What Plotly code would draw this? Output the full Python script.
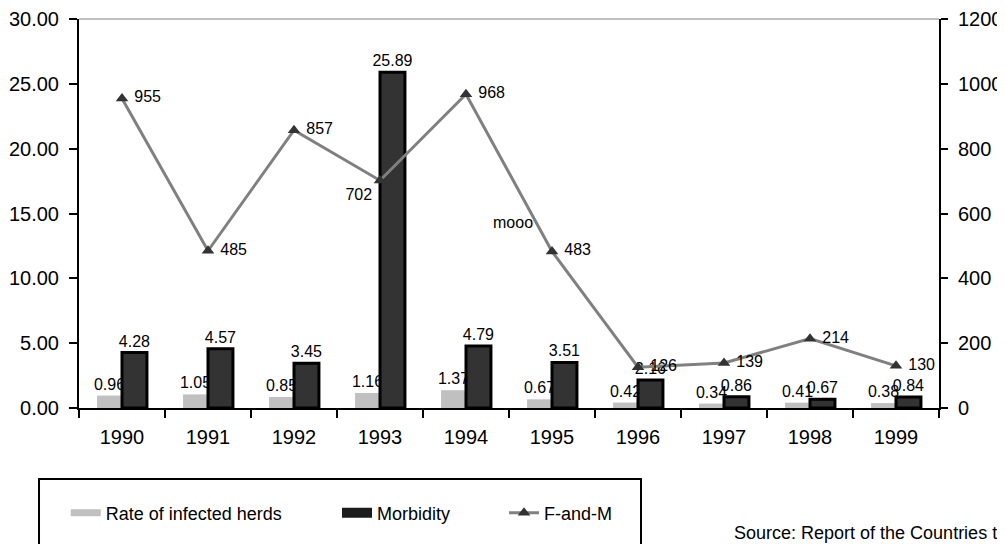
import plotly.graph_objects as go

years = ["1990", "1991", "1992", "1993", "1994", "1995", "1996", "1997", "1998", "1999"]
rate_infected = [0.96, 1.05, 0.85, 1.16, 1.37, 0.67, 0.42, 0.34, 0.41, 0.38]
morbidity = [4.28, 4.57, 3.45, 25.89, 4.79, 3.51, 2.16, 0.86, 0.67, 0.84]
f_and_m = [955, 485, 857, 702, 968, 483, 126, 139, 214, 130]

FONT = "Liberation Sans, Arial, sans-serif"
line_text_pos = ["middle right"] * len(years)
line_text_pos[3] = "bottom left"

fig = go.Figure()

fig.add_trace(go.Bar(
    x=years, y=rate_infected, name="Rate of infected herds",
    marker=dict(color="#c0c0c0", line=dict(width=0)),
    text=[f"{v:.2f}" for v in rate_infected], textposition="outside",
    constraintext="none", cliponaxis=False,
    textfont=dict(size=16, color="black", family=FONT),
    showlegend=False, legendgroup="rate",
))
fig.add_trace(go.Bar(
    x=years, y=morbidity, name="Morbidity",
    marker=dict(color="#333333", line=dict(color="black", width=3)),
    text=[f"{v:.2f}" for v in morbidity], textposition="outside",
    constraintext="none", cliponaxis=False,
    textfont=dict(size=16, color="black", family=FONT),
    showlegend=False, legendgroup="morb",
))
fig.add_trace(go.Scatter(
    x=years, y=f_and_m, name="F-and-M", yaxis="y2",
    mode="lines+markers+text",
    line=dict(color="#808080", width=3),
    marker=dict(symbol="triangle-up", size=11, color="#333333"),
    text=[f" {v}" if p == "middle right" else f"{v}" for v, p in zip(f_and_m, line_text_pos)],
    textposition=line_text_pos,
    textfont=dict(size=16, color="black", family=FONT),
    cliponaxis=False, legend="legend3",
))

# legend swatches (linked to the bar traces through legendgroup)
fig.add_trace(go.Scatter(x=[None], y=[None], mode="lines", name="Rate of infected herds",
                         line=dict(color="#c0c0c0", width=7), legendgroup="rate", legend="legend"))
fig.add_trace(go.Scatter(x=[None], y=[None], mode="lines", name="Morbidity",
                         line=dict(color="#1c1c1c", width=10), legendgroup="morb", legend="legend2"))

axis_common = dict(showgrid=False, zeroline=False, tickcolor="black", tickwidth=2,
                   linecolor="black", linewidth=2, automargin=False,
                   tickfont=dict(size=20, color="black", family=FONT))

fig.update_layout(
    width=997, height=536,
    margin=dict(l=71, r=66, t=11, b=136, autoexpand=False),
    paper_bgcolor="white", plot_bgcolor="white",
    font=dict(family=FONT, color="black"),
    barmode="group", bargap=0.42, bargroupgap=0,
    xaxis=dict(type="category", range=[-0.5, 9.5], tickson="boundaries",
               ticks="outside", ticklen=8, showline=True, ticklabelstandoff=10,
               **axis_common),
    xaxis2=dict(overlaying="x", anchor="y", side="bottom", range=[-0.5, 9.5],
                tick0=-0.5, dtick=1, ticks="inside", ticklen=7, tickwidth=2,
                tickcolor="black", showticklabels=False, showline=False,
                showgrid=False, zeroline=False, automargin=False),
    yaxis=dict(range=[0, 30], dtick=5, tickformat=".2f", ticks="outside", ticklen=8,
               showline=True, ticklabelstandoff=6, **axis_common),
    yaxis2=dict(range=[0, 1200], dtick=200, overlaying="y", side="right", anchor="x",
                ticks="outside", ticklen=7, showline=True, ticklabelstandoff=6,
                **axis_common),
    yaxis3=dict(range=[0, 30], dtick=5, overlaying="y", side="left", anchor="x",
                ticks="inside", ticklen=7, tickwidth=2, tickcolor="black",
                showticklabels=False, showline=False, showgrid=False, zeroline=False,
                automargin=False),
    yaxis4=dict(range=[0, 1200], dtick=200, overlaying="y", side="right", anchor="x",
                ticks="inside", ticklen=7, tickwidth=2, tickcolor="black",
                showticklabels=False, showline=False, showgrid=False, zeroline=False,
                automargin=False),
    legend=dict(x=-0.0154, y=-0.27, xanchor="left", yanchor="middle", orientation="h",
                bgcolor="rgba(0,0,0,0)", borderwidth=0, font=dict(size=18, family=FONT)),
    legend2=dict(x=0.300, y=-0.27, xanchor="left", yanchor="middle", orientation="h",
                 bgcolor="rgba(0,0,0,0)", borderwidth=0, font=dict(size=18, family=FONT)),
    legend3=dict(x=0.4942, y=-0.27, xanchor="left", yanchor="middle", orientation="h",
                 bgcolor="rgba(0,0,0,0)", borderwidth=0, font=dict(size=18, family=FONT)),
    shapes=[
        dict(type="line", xref="x domain", yref="y domain", x0=0, x1=1, y0=1, y1=1,
             line=dict(color="#c0c0c0", width=2), layer="below"),
        dict(type="rect", xref="paper", yref="paper", x0=-0.0465, x1=0.6535,
             y0=-0.1825, y1=-0.5, line=dict(color="black", width=2)),
    ],
    annotations=[
        dict(text="mooo", xref="paper", yref="paper", x=0.505, y=0.478,
             xanchor="center", yanchor="middle", showarrow=False,
             font=dict(size=16, color="black", family=FONT)),
        dict(text="Source: Report of the Countries t", xref="paper", yref="paper",
             x=0.759, y=-0.321, xanchor="left", yanchor="middle", showarrow=False,
             font=dict(size=18, color="black", family=FONT)),
    ],
)

fig.write_html("out.html")
